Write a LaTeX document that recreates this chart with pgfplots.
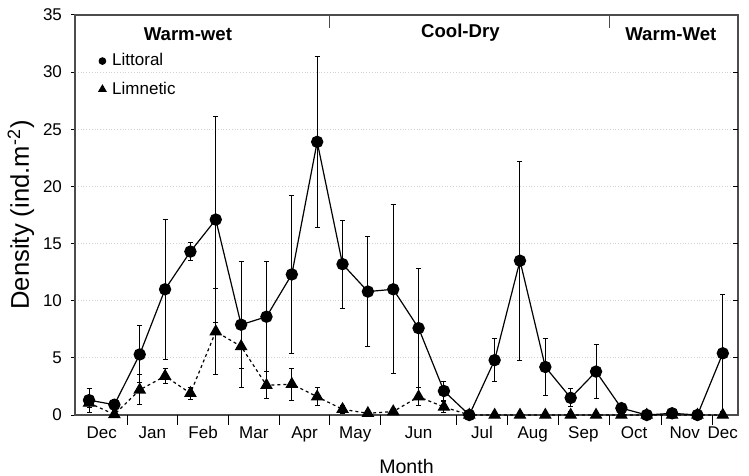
\documentclass[border=0pt]{standalone}
\usepackage{pgfplots}
\pgfplotsset{compat=1.18}
\usepackage{fontspec}
\setmainfont{Liberation Sans}

\begin{document}
\begin{tikzpicture}
\begin{axis}[
    name=ax,
    scale only axis,
    width=331.5pt,
    height=200pt,
    xmin=-0.553, xmax=25.6,
    ymin=0, ymax=35,
    ytick={0,5,...,35},
    ytick pos=left,
    xtick pos=bottom,
    tick align=outside,
    major tick length=2pt,
    xtick={0.5,2.5,4.5,6.5,8.5,10.5,13,15.5,17.5,19.5,21.5,23.5,25},
    xticklabels={Dec,Jan,Feb,Mar,Apr,May,Jun,Jul,Aug,Sep,Oct,Nov,Dec},
    xtick style={draw=none},
    extra x ticks={1.5,3.5,5.5,7.5,9.5,11.5,14.5,16.5,18.5,20.55,22.6,24.6},
    extra x tick labels={},
    extra x tick style={major tick length=4.75pt, xtick style={draw=black}},
    ymajorgrids,
    grid style={densely dotted, gray!35, line width=0.5pt},
    axis line style={line width=0.6pt, gray!60!black},
    tick style={line width=0.5pt, black},
    /pgf/number format/assume math mode=true,
    tick label style={font=\fontsize{8.5}{10}\selectfont},
    xticklabel style={text height=6.3pt, text depth=1.8pt},
    yticklabel style={xshift=-1pt},
    xlabel={Month},
    ylabel={Density (ind.m\textsuperscript{-2})},
    xlabel style={font=\fontsize{9.8}{11}\selectfont, at={(axis description cs:0.5,0)}, anchor=center, yshift=-25.5pt},
    ylabel style={font=\fontsize{12.8}{14}\selectfont, at={(axis description cs:0,0.5)}, anchor=center, yshift=27pt},
    legend style={
        at={(axis description cs:0.035,0.915)},
        anchor=north west,
        draw=none, fill=none,
        font=\fontsize{8.5}{10}\selectfont,
        row sep=2.5pt,
        inner sep=0pt,
        nodes={inner xsep=3pt},
    },
    legend cell align={left},
    legend image code/.code={\draw[#1] plot coordinates {(0.08cm,0cm)};},
]

% Littoral
\addplot[black, line width=0.6pt, mark=*, mark size=2.8pt, forget plot,
    error bars/.cd, y dir=both, y explicit,
    error bar style={line width=0.5pt, solid},
    error mark options={rotate=90, line width=0.5pt, mark size=1.25pt, solid}]
coordinates {
    (0,1.3) +- (0,1.05)
    (1,0.9) +- (0,0.5)
    (2,5.3) +- (0,2.5)
    (3,11.0) +- (0,6.1)
    (4,14.3) +- (0,0.8)
    (5,17.1) +- (0,9.0)
    (6,7.9) +- (0,5.5)
    (7,8.6) +- (0,4.8)
    (8,12.3) +- (0,6.9)
    (9,23.9) +- (0,7.5)
    (10,13.2) +- (0,3.85)
    (11,10.8) +- (0,4.8)
    (12,11.0) +- (0,7.4)
    (13,7.6) +- (0,5.2)
    (14,2.1) +- (0,0.8)
    (15,0) +- (0,0)
    (16,4.8) +- (0,1.9)
    (17,13.5) +- (0,8.7)
    (18,4.2) +- (0,2.5)
    (19,1.5) +- (0,0.8)
    (20,3.8) +- (0,2.4)
    (21,0.6) +- (0,0)
    (22,0) +- (0,0)
    (23,0.15) +- (0,0)
    (24,0) +- (0,0)
    (25,5.4) +- (0,5.1)
};

% Limnetic
\addplot[black, line width=0.6pt, dash pattern=on 1.5pt off 1.5pt, mark=triangle*, mark size=3.1pt,
    mark options={solid}, forget plot,
    error bars/.cd, y dir=both, y explicit,
    error bar style={line width=0.5pt, solid},
    error mark options={rotate=90, line width=0.5pt, mark size=1.25pt, solid}]
coordinates {
    (0,1.05) +- (0,0.4)
    (1,0.05) +- (0,0.6)
    (2,2.2) +- (0,1.3)
    (3,3.4) +- (0,0.65)
    (4,1.9) +- (0,0.55)
    (5,7.3) +- (0,3.8)
    (6,6.0) +- (0,1.9)
    (7,2.6) +- (0,1.2)
    (8,2.7) +- (0,1.4)
    (9,1.6) +- (0,0.8)
    (10,0.5) +- (0,0.35)
    (11,0.15) +- (0,0)
    (12,0.3) +- (0,0.25)
    (13,1.6) +- (0,0.8)
    (14,0.7) +- (0,0.5)
    (15,0) +- (0,0)
    (16,0) +- (0,0)
    (17,0) +- (0,0)
    (18,0) +- (0,0)
    (19,0) +- (0,0.3)
    (20,0) +- (0,0)
    (21,0) +- (0,0)
    (22,0) +- (0,0)
    (23,0) +- (0,0)
    (24,0) +- (0,0)
    (25,0) +- (0,0)
};

\addlegendimage{only marks, black, mark=*, mark size=1.7pt}
\addlegendentry{Littoral}
\addlegendimage{only marks, black, mark=triangle*, mark size=2.2pt}
\addlegendentry{Limnetic}

% season boundaries and right-hand ticks
\draw[line width=0.5pt, gray!60!black] (axis cs:9.5,35) -- ++(0pt,-6.5pt);
\draw[line width=0.5pt, gray!60!black] (axis cs:20.55,35) -- ++(0pt,-6.5pt);
\pgfplotsinvokeforeach{5,10,15,20,25,30}{
    \draw[line width=0.5pt] (axis cs:25.6,#1) -- ++(-2.5pt,0pt);
}

% season labels
\node[font=\fontsize{9.3}{11}\selectfont\bfseries] at (axis cs:3.9,33.3) {Warm-wet};
\node[font=\fontsize{9.3}{11}\selectfont\bfseries] at (axis cs:14.65,33.45) {Cool-Dry};
\node[font=\fontsize{9.3}{11}\selectfont\bfseries] at (axis cs:22.95,33.3) {Warm-Wet};

\end{axis}
\pgfresetboundingbox
\path (ax.south west) ++(-37.5pt,-30.5pt) ++(374.5pt,238pt);
\end{tikzpicture}
\end{document}
